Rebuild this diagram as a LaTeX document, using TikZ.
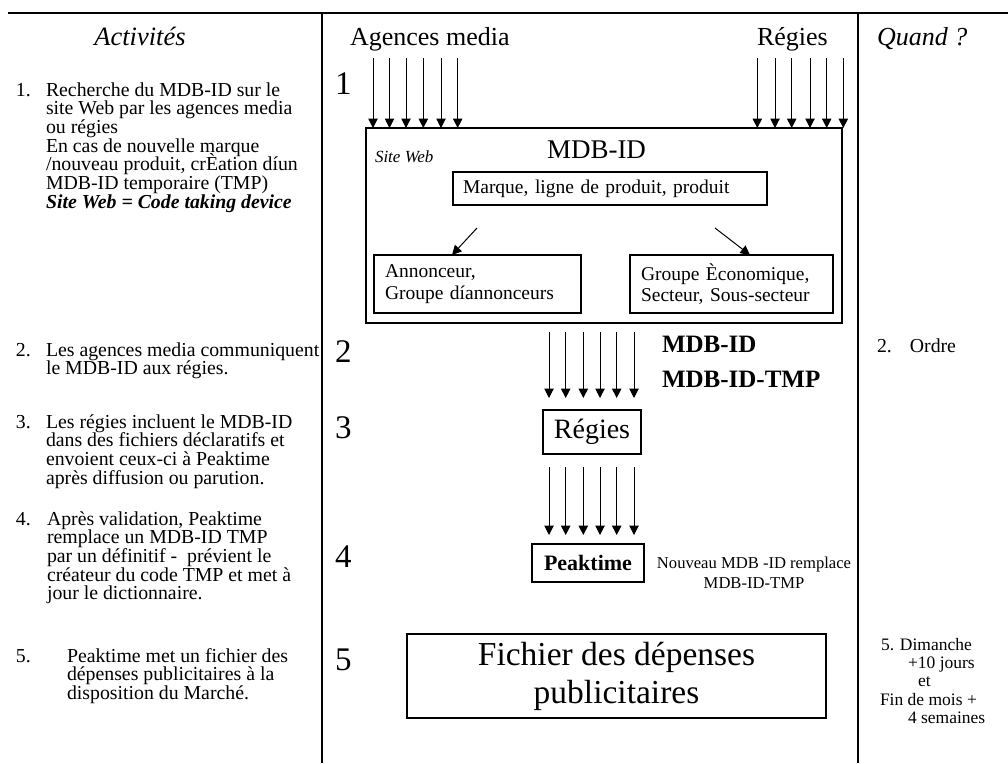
\documentclass[tikz,border=0pt]{standalone}
\usepackage{fontspec}
\setmainfont{Liberation Serif}
\usetikzlibrary{arrows.meta}
\newcommand\fs[2]{\fontsize{#1}{#2}\selectfont\lineskiplimit=-50pt\lineskip=0pt\relax}
\begin{document}
\begin{tikzpicture}[x=1pt,y=-1pt,
  every node/.style={inner sep=0pt, outer sep=0pt},
  rule/.style={line width=1.2pt},
  box/.style={draw, line width=1.1pt},
  arr/.style={line width=1pt, -{Triangle[width=9.5pt,length=9.5pt]}},
  body/.style={font=\fs{19.8}{18.7}, align=left, anchor=base west},
  bignum/.style={font=\fs{33}{33}, anchor=base west},
  head/.style={font=\fs{26}{26}, anchor=base west},
  quand/.style={font=\fs{17.5}{18}, anchor=base west},
  ]
\useasboundingbox (0,0) rectangle (1008,763);
% table rules
\draw[rule] (8,13) -- (1008,13);
\draw[rule] (322,13) -- (322,763);
\draw[rule] (858,13) -- (858,763);
% headers
\node[head, font=\fs{26.5}{26}\itshape, anchor=base] (hact) at (140,45) {Activités};
\node[head] (hag) at (350,45) {Agences media};
\node[head] (hreg) at (757,45) {Régies};
\node[head, font=\fs{26}{26}\itshape] (hq) at (877,45) {Quand ?};
% left column (multi-line nodes: base = last line)
\node[body] (n1) at (16,96) {1.};
\node[body] (t1) at (46,208.2) {Recherche du MDB-ID sur le\\site Web par les agences media\\ou régies\\En cas de nouvelle marque\\/nouveau produit, crÈation díun\\MDB-ID temporaire (TMP)\\\textbf{\textit{Site Web = Code taking device}}};
\node[body] (n2) at (16,356) {2.};
\node[body] (t2) at (46,374.7) {Les agences media communiquent\\le MDB-ID aux régies.};
\node[body] (n3) at (16,428) {3.};
\node[body] (t3) at (46,484.1) {Les régies incluent le MDB-ID\\dans des fichiers déclaratifs et\\envoient ceux-ci à Peaktime\\après diffusion ou parution.};
\node[body] (n4) at (16,525) {4.};
\node[body] (t4) at (47,599.8) {Après validation, Peaktime\\remplace un MDB-ID TMP\\par un définitif -\ \ prévient le\\créateur du code TMP et met à\\jour le dictionnaire.};
\node[body] (n5) at (16,662) {5.};
\node[body] (t5) at (67,699.4) {Peaktime met un fichier des\\dépenses publicitaires à la\\disposition du Marché.};
% big step numbers
\node[bignum] (s1) at (335,94) {1};
\node[bignum] (s2) at (335,362) {2};
\node[bignum] (s3) at (335,438) {3};
\node[bignum] (s4) at (335,567) {4};
\node[bignum] (s5) at (335,670) {5};
% site web box
\node[box, anchor=north west, minimum width=476pt, minimum height=195pt] (web) at (366,128) {};
\node[font=\fs{17}{17}\itshape, anchor=base west] (sw) at (375,162) {Site Web};
\node[font=\fs{27}{27}, anchor=base west] (mdb) at (547,158) {MDB-ID};
\node[box, anchor=north west, minimum width=314pt, minimum height=33pt, text width=294pt, inner xsep=10pt, align=left, font=\fs{19.5}{21}] (marq) at (453,172) {Marque, ligne de produit, produit};
\node[box, anchor=north west, minimum width=207pt, minimum height=58pt, text width=185pt, inner xsep=11pt, align=left, font=\fs{19.5}{21.7}] (ann) at (374,255) {Annonceur,\\Groupe díannonceurs};
\node[box, anchor=north west, minimum width=203pt, minimum height=58pt, text width=181pt, inner xsep=11pt, align=left, font=\fs{19.5}{21.7}] (grp) at (630,255) {Groupe Èconomique,\\Secteur, Sous-secteur};
\coordinate (dls) at (477,228);
\coordinate (drs) at (715,228);
\draw[arr] (dls) -- (ann.north -| 452,0);
\draw[arr] (drs) -- (grp.north -| 750,0);
% incoming arrows
\foreach \x [count=\i] in {373,389.5,406,423.3,441,457.7} {
  \coordinate (ag\i) at (\x,58);
  \draw[arr] (ag\i) -- (ag\i |- web.north);
}
\foreach \x [count=\i] in {757.3,775,791.7,810,826.7,843.3} {
  \coordinate (rg\i) at (\x,58);
  \draw[arr] (rg\i) -- (rg\i |- web.north);
}
% regies / peaktime
\node[box, anchor=north west, minimum width=98pt, minimum height=44pt, font=\fs{28}{28}] (reg) at (543,410) {Régies};
\node[box, anchor=north west, minimum width=112pt, minimum height=38pt, font=\fs{22}{22}\bfseries] (peak) at (532,544) {Peaktime};
\foreach \x [count=\i] in {549,565.7,583.3,600,616.7,634} {
  \coordinate (m\i) at (\x,332);
  \coordinate (me\i) at (\x,398);
  \draw[arr] (m\i) -- (me\i);
  \coordinate (p\i) at (\x,467);
  \coordinate (pe\i) at (\x,535);
  \draw[arr] (p\i) -- (pe\i);
}
\node[font=\fs{25}{25}\bfseries, anchor=base west] (lab1) at (662,352) {MDB-ID};
\node[font=\fs{25}{25}\bfseries, anchor=base west] (lab2) at (662,387) {MDB-ID-TMP};
\node[font=\fs{16.6}{20}, align=center, anchor=base] (nouv) at (754,588) {Nouveau MDB -ID remplace\\MDB-ID-TMP};
% fichier box
\node[draw, line width=2pt, anchor=north west, minimum width=419pt, minimum height=84pt, align=center, font=\fs{33.5}{38}] (fich) at (407,634) {Fichier des dépenses\\publicitaires};
% right column
\node[body] (q2) at (877,352) {2.\hspace{18pt}Ordre};
\node[quand] (q5a) at (881,650) {5. Dimanche};
\node[quand] (q5b) at (908,668) {+10 jours};
\node[quand] (q5c) at (918,686) {et};
\node[quand] (q5d) at (880,705) {Fin de mois +};
\node[quand] (q5e) at (908,723) {4 semaines};
\end{tikzpicture}
\end{document}
